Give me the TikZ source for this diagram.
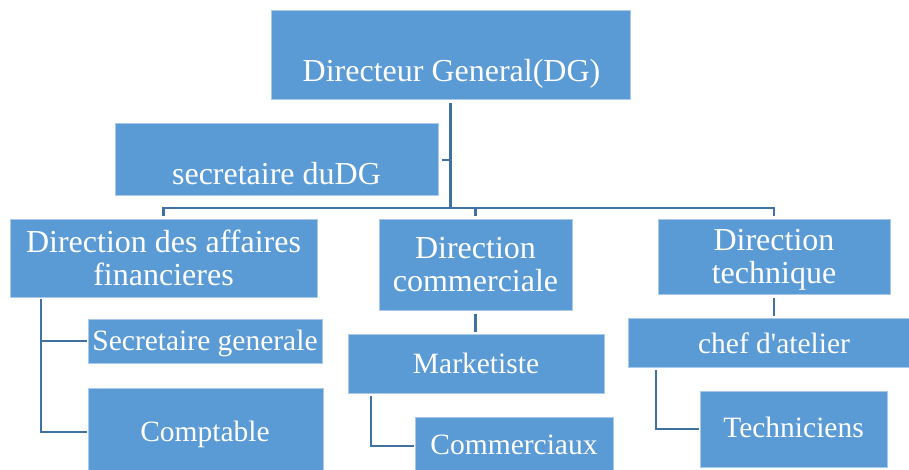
\documentclass[tikz,border=0pt]{standalone}
\usepackage{fontspec}
\setmainfont{Liberation Serif}
\definecolor{boxblue}{RGB}{91,155,213}
\definecolor{boxedge}{RGB}{170,200,232}
\definecolor{linkblue}{RGB}{65,113,160}
\tikzset{
  box/.style={rectangle, fill=boxblue, draw=boxedge, line width=1pt, inner sep=0pt},
  txt/.style={text=white, anchor=base, inner sep=0pt, font=\fontsize{29.5}{33}\selectfont},
  bigtxt/.style={txt, font=\fontsize{32}{35}\selectfont},
  conn/.style={draw=linkblue, line width=2.7pt}
}
\begin{document}
\begin{tikzpicture}[x=1pt,y=-1pt]
\useasboundingbox (0,0) rectangle (909,470);
\clip (0,0) rectangle (909,470);
% boxes
\node[box, minimum width=359pt, minimum height=89pt] (dg)   at (450.5,55.5) {};
\node[box, minimum width=323pt, minimum height=72pt] (sec)  at (276.5,160) {};
\node[box, minimum width=307pt, minimum height=77pt] (daf)  at (163.5,258.5) {};
\node[box, minimum width=193pt, minimum height=90pt] (dc)   at (475.5,265) {};
\node[box, minimum width=232pt, minimum height=74pt] (dt)   at (774,257) {};
\node[box, minimum width=234pt, minimum height=44pt] (sg)   at (205,341) {};
\node[box, minimum width=235pt, minimum height=88pt] (cpt)  at (205.5,432) {};
\node[box, minimum width=256pt, minimum height=59pt] (mkt)  at (476,363.5) {};
\node[box, minimum width=198pt, minimum height=58pt] (com)  at (514,446) {};
\node[box, minimum width=291pt, minimum height=49pt] (chef) at (773.5,342.5) {};
\node[box, minimum width=187pt, minimum height=76pt] (tech) at (793.5,429) {};
% texts
\node[bigtxt] (tdg)   at (451.5,82) {Directeur General(DG)};
\node[bigtxt] (tsec)  at (276.5,185) {secretaire duDG};
\node[bigtxt] (tdaf1) at (163.5,252) {Direction des affaires};
\node[bigtxt] (tdaf2) at (163.5,285) {financieres};
\node[bigtxt] (tdc1)  at (475.5,258) {Direction};
\node[bigtxt] (tdc2)  at (475.5,291) {commerciale};
\node[bigtxt] (tdt1)  at (774,250) {Direction};
\node[bigtxt] (tdt2)  at (774,283) {technique};
\node[txt] (tsg)   at (205,350) {Secretaire generale};
\node[txt] (tcpt)  at (205,441) {Comptable};
\node[txt] (tmkt)  at (476,373) {Marketiste};
\node[txt] (tcom)  at (514,454) {Commerciaux};
\node[txt] (tchef) at (774,353) {chef d\textquotesingle atelier};
\node[txt] (ttech) at (793.5,437) {Techniciens};
% connectors
\coordinate (bar) at (450.5,208);
\draw[conn] ([yshift=-3pt]dg.south) -- (dg.south |- bar);
\draw[conn] ([xshift=3pt]sec.east) -- (sec.east -| dg.south);
\draw[conn] ([xshift=-1.35pt]daf.north |- bar) -- ([xshift=1.35pt]dt.north |- bar);
\draw[conn] (daf.north |- bar) -- ([yshift=3pt]daf.north);
\draw[conn] (dc.north |- bar) -- ([yshift=3pt]dc.north);
\draw[conn] (dt.north |- bar) -- ([yshift=3pt]dt.north);
% direction des affaires financieres
\coordinate (afx) at (41,299);
\draw[conn] (afx) |- ([xshift=-1pt]cpt.west);
\draw[conn] (afx |- sg.west) -- ([xshift=-1pt]sg.west);
% direction commerciale
\draw[conn] ([yshift=-3pt]dc.south) -- ([yshift=2pt]mkt.north -| dc.south);
\coordinate (mkx) at (371,396);
\draw[conn] (mkx) |- ([xshift=-1pt]com.west);
% direction technique
\draw[conn] ([yshift=-3pt]dt.south) -- ([yshift=2pt]chef.north -| dt.south);
\coordinate (chx) at (656,370);
\draw[conn] (chx) |- ([xshift=-1pt]tech.west);
\end{tikzpicture}
\end{document}
